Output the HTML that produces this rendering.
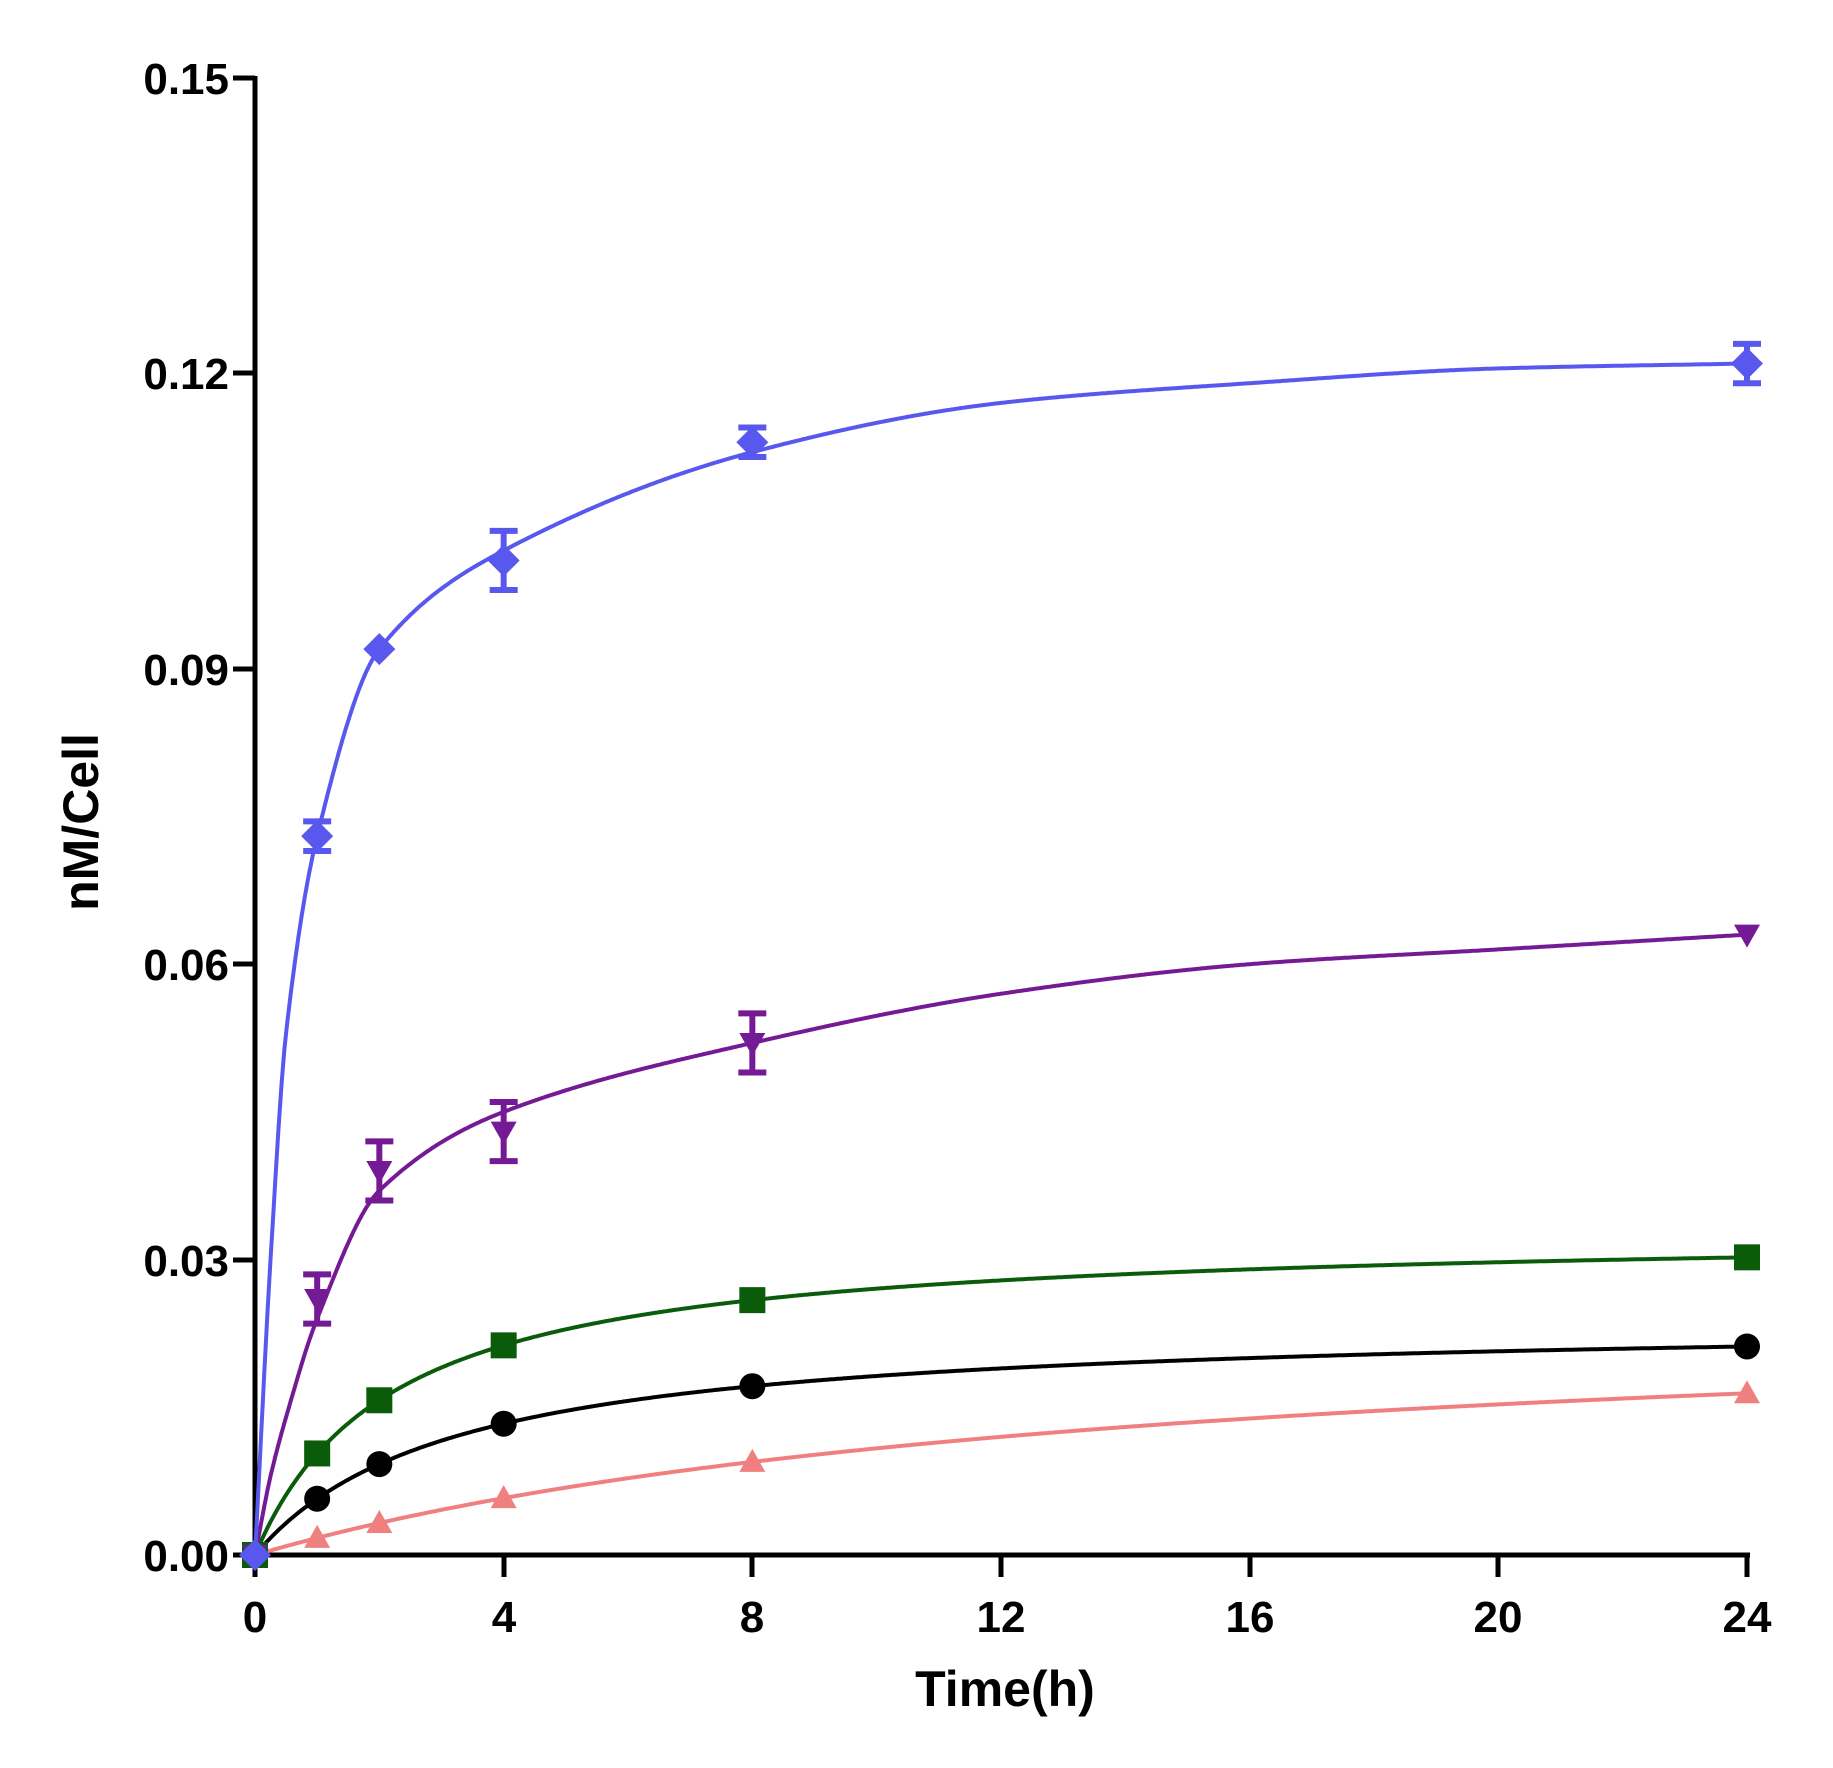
<!DOCTYPE html>
<html><head><style>body{margin:0;background:#fff}svg{display:block}</style></head>
<body>
<svg id="s" width="1833" height="1768" xmlns="http://www.w3.org/2000/svg" font-family="Liberation Sans, Arial, sans-serif" font-weight="bold">
<rect width="1833" height="1768" fill="#fff"/>
<g stroke="#000" stroke-width="5" fill="none">
<line x1="255" y1="76" x2="255" y2="1557"/>
<line x1="253" y1="1555" x2="1750" y2="1555"/>
<line x1="233" y1="78" x2="255" y2="78"/>
<line x1="233" y1="373" x2="255" y2="373"/>
<line x1="233" y1="669" x2="255" y2="669"/>
<line x1="233" y1="964" x2="255" y2="964"/>
<line x1="233" y1="1260" x2="255" y2="1260"/>
<line x1="233" y1="1555" x2="255" y2="1555"/>
<line x1="255" y1="1555" x2="255" y2="1577"/>
<line x1="504" y1="1555" x2="504" y2="1577"/>
<line x1="752" y1="1555" x2="752" y2="1577"/>
<line x1="1001" y1="1555" x2="1001" y2="1577"/>
<line x1="1250" y1="1555" x2="1250" y2="1577"/>
<line x1="1498" y1="1555" x2="1498" y2="1577"/>
<line x1="1747" y1="1555" x2="1747" y2="1577"/>
</g>
<g font-size="44" text-anchor="end" fill="#000">
<text x="229" y="94">0.15</text>
<text x="229" y="389">0.12</text>
<text x="229" y="685">0.09</text>
<text x="229" y="980">0.06</text>
<text x="229" y="1276">0.03</text>
<text x="229" y="1571">0.00</text>
</g>
<g font-size="44" text-anchor="middle" fill="#000">
<text x="255" y="1632">0</text>
<text x="504" y="1632">4</text>
<text x="752" y="1632">8</text>
<text x="1001" y="1632">12</text>
<text x="1250" y="1632">16</text>
<text x="1498" y="1632">20</text>
<text x="1747" y="1632">24</text>
<text x="1005" y="1706" font-size="50">Time(h)</text>
<text transform="translate(98,822) rotate(-90)" font-size="50">nM/Cell</text>
</g>
<g id="g"></g>
</svg>
<script>
var X=t=>255+t*62.167, Y=v=>1555-v*9847;
function mono(xs,ys){var n=xs.length,d=[],m=[];for(var i=0;i<n-1;i++)d.push((ys[i+1]-ys[i])/(xs[i+1]-xs[i]));
m[0]=d[0];m[n-1]=d[n-2];for(i=1;i<n-1;i++){m[i]=(d[i-1]*d[i]<=0)?0:2/(1/d[i-1]+1/d[i]);}
return function(t){var i=0;while(i<n-2&&t>xs[i+1])i++;var h=xs[i+1]-xs[i],s=(t-xs[i])/h,s2=s*s,s3=s2*s;
return (2*s3-3*s2+1)*ys[i]+(s3-2*s2+s)*h*m[i]+(-2*s3+3*s2)*ys[i+1]+(s3-s2)*h*m[i+1];};}
var TT=[0,.25,.5,1,2,4,8,12,16,20,24];
var S=[
{c:"#f08080",f:t=>0.026*t/(14+t),m:"tri"},
{c:"#000",f:t=>0.024*t/(3.2+t),m:"circ"},
{c:"#0a5c0a",f:t=>0.033*t/(2.2+t),m:"sq"},
{c:"#751a95",f:mono(TT,[0,.008,.014,.024,.037,.045,.052,.057,.060,.0615,.063]),m:"dtri",p:{1:.026,2:.039,4:.043,8:.052,24:.063},e:{1:.0025,2:.003,4:.003,8:.003}},
{c:"#5858ee",f:mono(TT,[0,.03,.053,.073,.092,.102,.112,.117,.119,.1205,.121]),m:"dia",p:{1:.073,2:.092,4:.101,8:.113,24:.121},e:{1:.0015,4:.003,8:.0015,24:.002}}];
var g=document.getElementById("g"),h="";
S.forEach(s=>{var d="";for(var i=0;i<=960;i++){var t=i/40,v=s.f(t);d+=(i?"L":"M")+X(t).toFixed(1)+","+Y(v).toFixed(1);}
h+='<path d="'+d+'" fill="none" stroke="'+s.c+'" stroke-width="4"/>';
[0,1,2,4,8,24].forEach(t=>{var v=(s.p&&s.p[t]!=null)?s.p[t]:s.f(t),x=X(t),y=Y(v);
if(s.e&&s.e[t]){var e=s.e[t]*9847;h+='<path d="M'+x+','+(y-e)+'V'+(y+e)+'M'+(x-14)+','+(y-e)+'H'+(x+14)+'M'+(x-14)+','+(y+e)+'H'+(x+14)+'" stroke="'+s.c+'" stroke-width="6" fill="none"/>';}
var c=s.c,r=13;
if(s.m=="circ")h+='<circle cx="'+x+'" cy="'+y+'" r="'+r+'" fill="'+c+'"/>';
if(s.m=="sq")h+='<rect x="'+(x-r)+'" y="'+(y-r)+'" width="'+2*r+'" height="'+2*r+'" fill="'+c+'"/>';
if(s.m=="tri")h+='<polygon points="'+x+','+(y-13)+' '+(x-13)+','+(y+10)+' '+(x+13)+','+(y+10)+'" fill="'+c+'"/>';
if(s.m=="dtri")h+='<polygon points="'+x+','+(y+13)+' '+(x-13)+','+(y-10)+' '+(x+13)+','+(y-10)+'" fill="'+c+'"/>';
if(s.m=="dia")h+='<polygon points="'+x+','+(y-16)+' '+(x+16)+','+y+' '+x+','+(y+16)+' '+(x-16)+','+y+'" fill="'+c+'"/>';
});});
g.innerHTML=h;
</script>
</body></html>
